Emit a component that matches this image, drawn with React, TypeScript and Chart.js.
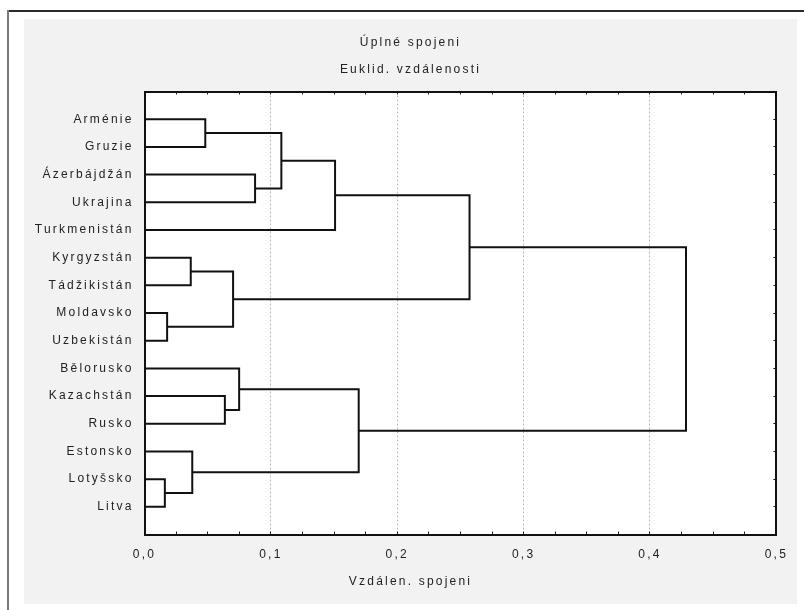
import React, { useEffect, useRef } from 'react';
import { Chart, registerables } from 'chart.js';

Chart.register(...registerables);

// ---- data ----
const countries = [
  'Arménie', 'Gruzie', 'Ázerbájdžán', 'Ukrajina', 'Turkmenistán',
  'Kyrgyzstán', 'Tádžikistán', 'Moldavsko', 'Uzbekistán',
  'Bělorusko', 'Kazachstán', 'Rusko', 'Estonsko', 'Lotyšsko', 'Litva',
];
// linkage (leaf ids 0..14, merged clusters get ids 15, 16, ...)
const mergeLeft = [13, 7, 5, 12, 0, 10, 17, 9, 2, 19, 24, 22, 25, 27];
const mergeRight = [14, 8, 6, 15, 1, 11, 16, 20, 3, 23, 4, 18, 21, 26];
const mergeHeight = [0.0161, 0.0179, 0.0366, 0.0378, 0.0481, 0.0636, 0.0701, 0.0749, 0.0875, 0.1083, 0.1508, 0.1695, 0.2572, 0.4285];
const xMajorTicks = [0, 0.1, 0.2, 0.3, 0.4, 0.5];
const titleLines = ['Úplné spojeni', 'Euklid. vzdálenosti'];
const xTitle = 'Vzdálen. spojeni';

const FONT = "'Liberation Sans', Arial, sans-serif";
const TEXT = '#222';
const LS = '2.2px';

const isMajor = (v: number) => xMajorTicks.some((m) => Math.abs(m - v) < 1e-9);

function buildDatasets() {
  const nodeX: number[] = countries.map(() => 0);
  const nodeY: number[] = countries.map((_, i) => i + 1);
  return mergeHeight.map((h, k) => {
    const a = mergeLeft[k];
    const b = mergeRight[k];
    const data = [
      { x: nodeX[a], y: nodeY[a] },
      { x: h, y: nodeY[a] },
      { x: h, y: nodeY[b] },
      { x: nodeX[b], y: nodeY[b] },
    ];
    nodeX.push(h);
    nodeY.push((nodeY[a] + nodeY[b]) / 2);
    return {
      data,
      showLine: true,
      borderColor: '#111',
      borderWidth: 2,
      pointRadius: 0,
      pointHoverRadius: 0,
      tension: 0,
      fill: false,
    };
  });
}

const setSpacing = (chart: any) => {
  (chart.ctx as any).letterSpacing = LS;
};

const framePlugin = {
  id: 'frame',
  beforeUpdate: setSpacing,
  beforeLayout: setSpacing,
  beforeRender: setSpacing,
  beforeDraw(chart: any) {
    const ctx = chart.ctx;
    const { width, height } = chart;
    ctx.save();
    ctx.fillStyle = '#ffffff';
    ctx.fillRect(0, 0, width, height);
    // outer frame lines
    ctx.fillStyle = '#2b2b2b';
    ctx.fillRect(7, 10, width - 7, 2);
    ctx.fillStyle = '#7a7a7a';
    ctx.fillRect(7, 10, 2, height - 10);
    // grey panel
    ctx.fillStyle = '#f2f2f2';
    ctx.fillRect(24, 19, 797 - 24, 604 - 19);
    // white plot area
    const a = chart.chartArea;
    ctx.fillStyle = '#ffffff';
    ctx.fillRect(a.left, a.top, a.right - a.left, a.bottom - a.top);
    ctx.restore();
    setSpacing(chart);
  },
};

export default function App() {
  const ref = useRef<HTMLCanvasElement | null>(null);

  useEffect(() => {
    if (!ref.current) return;
    const chart = new Chart(ref.current, {
      type: 'scatter',
      data: { datasets: buildDatasets() as any },
      plugins: [framePlugin],
      options: {
        animation: false,
        responsive: false,
        events: [],
        layout: { padding: { left: 24, top: 19, right: 7, bottom: 6 } },
        plugins: {
          legend: { display: false },
          tooltip: { enabled: false },
          title: {
            display: true,
            text: titleLines,
            color: TEXT,
            font: { family: FONT, size: 12, weight: 'normal', lineHeight: '27px' },
            padding: { top: 10.5, bottom: 0 },
          },
          subtitle: {
            display: true,
            position: 'bottom',
            text: xTitle,
            color: TEXT,
            font: { family: FONT, size: 12, weight: 'normal', lineHeight: '14px' },
            padding: { top: 4, bottom: 15 },
          },
        },
        scales: {
          x: {
            type: 'linear',
            position: 'bottom',
            min: 0,
            max: 0.5,
            afterFit: (s: any) => { s.height = 36.5; },
            ticks: {
              stepSize: 0.025,
              autoSkip: false,
              maxRotation: 0,
              padding: 16,
              color: TEXT,
              font: { family: FONT, size: 12 },
              callback: (v: any) => (isMajor(Number(v)) ? Number(v).toFixed(1).replace('.', ',') : ''),
            },
            grid: {
              drawOnChartArea: true,
              drawTicks: true,
              tickLength: -3,
              lineWidth: 1,
              color: (c: any) => {
                const v = c.tick ? c.tick.value : 0;
                return isMajor(v) && v > 0.001 && v < 0.499 ? '#b8b8b8' : 'rgba(0,0,0,0)';
              },
              tickColor: '#222',
              tickWidth: 1,
            },
            border: { display: true, color: '#111', width: 2, dash: [2, 2] },
          },
          x2: {
            type: 'linear',
            position: 'top',
            min: 0,
            max: 0.5,
            afterFit: (s: any) => { s.height = 8; },
            ticks: { stepSize: 0.025, autoSkip: false, display: false },
            grid: { drawOnChartArea: false, drawTicks: true, tickLength: -3, tickColor: '#222', tickWidth: 1 },
            border: { display: true, color: '#111', width: 2 },
          },
          y: {
            type: 'linear',
            position: 'left',
            min: 0,
            max: 16,
            reverse: true,
            afterFit: (s: any) => { s.width = 120.5; },
            ticks: {
              stepSize: 1,
              autoSkip: false,
              padding: 11,
              color: TEXT,
              font: { family: FONT, size: 12 },
              callback: (v: any) => {
                const i = Math.round(Number(v));
                return i >= 1 && i <= countries.length ? countries[i - 1] : '';
              },
            },
            grid: { display: false, drawTicks: false, drawOnChartArea: false },
            border: { display: true, color: '#111', width: 2 },
          },
          y2: {
            type: 'linear',
            position: 'right',
            min: 0,
            max: 16,
            reverse: true,
            afterFit: (s: any) => { s.width = 18; },
            ticks: { stepSize: 1, autoSkip: false, display: false },
            grid: { drawOnChartArea: false, drawTicks: true, tickLength: -3, tickColor: '#222', tickWidth: 1 },
            border: { display: true, color: '#111', width: 2 },
          },
        },
      } as any,
    });
    return () => chart.destroy();
  }, []);

  return (
    <div style={{ position: 'absolute', left: 0, top: 0, width: 804, height: 610, background: '#fff' }}>
      <canvas ref={ref} width={804} height={610} style={{ display: 'block', width: 804, height: 610 }} />
    </div>
  );
}
